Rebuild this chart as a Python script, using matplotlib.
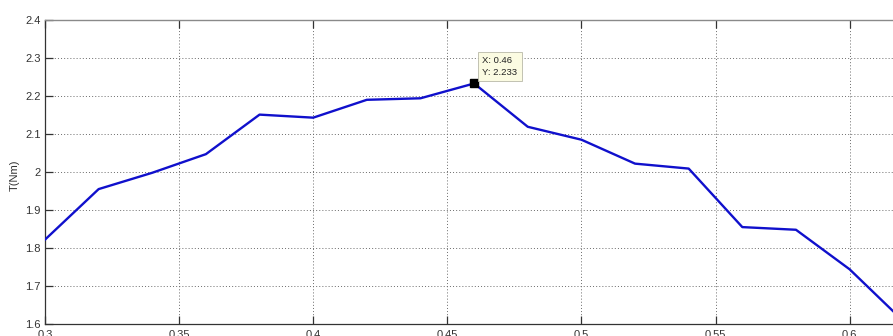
import matplotlib
matplotlib.use("Agg")
import matplotlib.pyplot as plt
import numpy as np

# Torque against slip
slip = [0.30, 0.32, 0.34, 0.36, 0.38, 0.40, 0.42, 0.44, 0.46,
        0.48, 0.50, 0.52, 0.54, 0.56, 0.58, 0.60, 0.62]
torque = [1.822, 1.955, 1.998, 2.047, 2.151, 2.143, 2.190, 2.194, 2.233,
          2.119, 2.085, 2.022, 2.009, 1.855, 1.848, 1.744, 1.608]
x_ticks = [0.3, 0.35, 0.4, 0.45, 0.5, 0.55, 0.6, 0.65]
x_tick_labels = ["0.3", "0.35", "0.4", "0.45", "0.5", "0.55", "0.6", "0.65"]
y_ticks = [1.6, 1.7, 1.8, 1.9, 2.0, 2.1, 2.2, 2.3, 2.4]
y_tick_labels = ["1.6", "1.7", "1.8", "1.9", "2", "2.1", "2.2", "2.3", "2.4"]
tip_x, tip_y = 0.46, 2.233

plt.rcParams['font.family'] = ['Liberation Sans', 'DejaVu Sans']

W, H = 893, 336
fig = plt.figure(figsize=(W / 100, H / 100), dpi=100)
fig.patch.set_facecolor('white')

px_per_unit = 134.1 / 0.05
xmin, xmax = 0.3, 0.65
left, top, bottom = 45, 20, 324
ax = fig.add_axes([left / W, (H - bottom) / H,
                   (xmax - xmin) * px_per_unit / W, (bottom - top) / H])

ax.plot(slip, torque, color='#1010cc', lw=1.7, solid_joinstyle='round', zorder=3)
ax.plot([tip_x], [tip_y], marker='s', color='black', markersize=5.2, zorder=4)

ax.annotate(f"X: {tip_x:g}\nY: {tip_y:g}", xy=(tip_x, tip_y),
            xytext=(6, 5), textcoords='offset points', ha='left', va='bottom',
            fontsize=6.8, color='#222222', linespacing=1.3,
            bbox=dict(boxstyle='square,pad=0.45', fc='#fbfbe2', ec='#b8b8a8', lw=0.6),
            zorder=5)

ax.set_xlim(xmin, xmax)
ax.set_ylim(1.6, 2.4)
ax.set_xticks(x_ticks)
ax.set_xticklabels(x_tick_labels)
ax.set_yticks(y_ticks)
ax.set_yticklabels(y_tick_labels)

ax.tick_params(direction='in', length=6, width=0.9, colors='#333333',
               labelsize=8, labelcolor='#333333', top=True, right=True)
ax.tick_params(axis='x', pad=4)
ax.tick_params(axis='y', pad=3)

ax.grid(True, color='#6a6a6a', linestyle=(0, (1, 2.2)), linewidth=0.7)
ax.set_axisbelow(True)

for side in ('left', 'bottom'):
    ax.spines[side].set_color('#333333')
    ax.spines[side].set_linewidth(0.9)
for side in ('top', 'right'):
    ax.spines[side].set_color('#8a8a8a')
    ax.spines[side].set_linewidth(1.0)

fig.text(15 / W, 1 - 175 / H, "T(Nm)", rotation=90, ha='center', va='center',
         fontsize=8, color='#333333')

fig.savefig("out.png", dpi=100, facecolor='white')
